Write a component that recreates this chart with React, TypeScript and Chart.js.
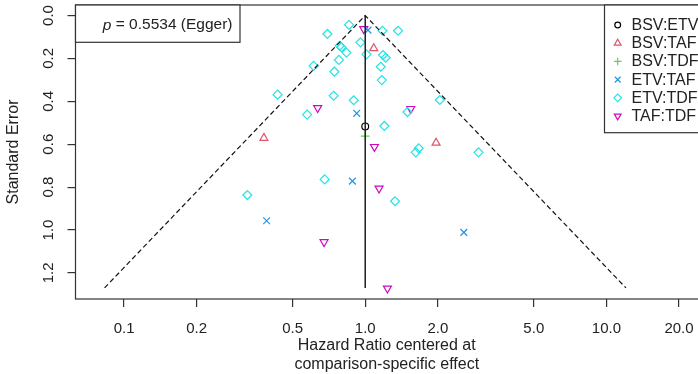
import React, { useEffect, useRef } from "react";
import { Chart, registerables } from "chart.js";
import { drawPoint } from "chart.js/helpers";

Chart.register(...registerables);

// ---- data (hazard ratio centered at comparison-specific effect, standard error) ----
const bsvEtvX = [1.0];
const bsvEtvY = [0.517];

const bsvTafX = [1.085, 0.38, 1.967];
const bsvTafY = [0.153, 0.571, 0.594];

const bsvTdfX = [1.0];
const bsvTdfY = [0.562];

const etvTafX = [1.027, 0.922, 0.885, 0.39, 2.563];
const etvTafY = [0.068, 0.456, 0.772, 0.957, 1.011];

const etvTdfX = [
  0.857, 0.697, 1.179, 1.368, 0.784, 0.797, 0.955, 0.836, 1.012, 1.185,
  1.216, 0.778, 0.611, 1.16, 0.745, 1.171, 0.433, 0.74, 0.896, 2.038,
  0.574, 1.497, 1.201, 1.667, 1.62, 2.949, 0.679, 0.3245, 1.329,
];
const etvTdfY = [
  0.044, 0.086, 0.071, 0.071, 0.141, 0.148, 0.125, 0.173, 0.181, 0.184,
  0.197, 0.207, 0.235, 0.239, 0.262, 0.301, 0.369, 0.374, 0.395, 0.394,
  0.462, 0.45, 0.515, 0.619, 0.638, 0.638, 0.764, 0.837, 0.866,
];

const tafTdfX = [0.986, 0.635, 1.545, 1.092, 1.141, 0.675, 1.236];
const tafTdfY = [0.063, 0.431, 0.435, 0.612, 0.806, 1.056, 1.272];

// funnel (pseudo 95% limits) and centre line
const funnelX = [0.083, 1.0, 12.05];
const funnelY = [1.27, 0.0, 1.27];
const centerX = [1.0, 1.0];
const centerY = [0.0, 1.27];

const xTicks = [0.1, 0.2, 0.5, 1.0, 2.0, 5.0, 10.0, 20.0];
const xTickLabels = ["0.1", "0.2", "0.5", "1.0", "2.0", "5.0", "10.0", "20.0"];
const yTicks = [0.0, 0.2, 0.4, 0.6, 0.8, 1.0, 1.2];
const yTickLabels = ["0.0", "0.2", "0.4", "0.6", "0.8", "1.0", "1.2"];

const seriesNames = ["BSV:ETV", "BSV:TAF", "BSV:TDF", "ETV:TAF", "ETV:TDF", "TAF:TDF"];
const pValueText = "0.5534";

const FONT = "'Liberation Sans', Arial, Helvetica, sans-serif";
const INK = "#222222";

const toPts = (xs: number[], ys: number[]) => xs.map((x, i) => ({ x, y: ys[i] }));

const styles = [
  { color: "#000000", pointStyle: "circle", radius: 3.4, rotation: 0 },
  { color: "#DF536B", pointStyle: "triangle", radius: 4.6, rotation: 0 },
  { color: "#61D04F", pointStyle: "cross", radius: 4.4, rotation: 0 },
  { color: "#2297E6", pointStyle: "crossRot", radius: 4.8, rotation: 0 },
  { color: "#28E2E5", pointStyle: "rectRot", radius: 4.5, rotation: 0 },
  { color: "#CD0BBC", pointStyle: "triangle", radius: 4.6, rotation: 180 },
];
const seriesData = [
  toPts(bsvEtvX, bsvEtvY),
  toPts(bsvTafX, bsvTafY),
  toPts(bsvTdfX, bsvTdfY),
  toPts(etvTafX, etvTafY),
  toPts(etvTdfX, etvTdfY),
  toPts(tafTdfX, tafTdfY),
];

const decorPlugin = {
  id: "decor",
  afterDraw(chart: any) {
    const ctx = chart.ctx as CanvasRenderingContext2D;
    const area = chart.chartArea;
    const yScale = chart.scales.y;
    ctx.save();
    // plot box
    ctx.strokeStyle = "#333333";
    ctx.lineWidth = 1.2;
    ctx.strokeRect(area.left, area.top, area.right - area.left + 10, area.bottom - area.top);

    // y tick labels (rotated, as in R)
    ctx.fillStyle = INK;
    ctx.font = `15px ${FONT}`;
    ctx.textAlign = "center";
    ctx.textBaseline = "middle";
    yTicks.forEach((v, i) => {
      const py = yScale.getPixelForValue(v);
      ctx.save();
      ctx.translate(48.5, py);
      ctx.rotate(-Math.PI / 2);
      ctx.fillText(yTickLabels[i], 0, 0);
      ctx.restore();
    });

    // p-value box
    const bx = area.left;
    const by = area.top;
    const bw = 164.5;
    const bh = 37.3;
    ctx.fillStyle = "#ffffff";
    ctx.fillRect(bx, by, bw, bh);
    ctx.strokeRect(bx, by, bw, bh);
    ctx.fillStyle = INK;
    ctx.textAlign = "left";
    ctx.textBaseline = "middle";
    const rest = ` = ${pValueText} (Egger)`;
    ctx.font = `15.5px ${FONT}`;
    const wRest = ctx.measureText(rest).width;
    ctx.font = `italic 15.5px ${FONT}`;
    const wP = ctx.measureText("p").width;
    const endX = bx + bw - 7.5;
    const startX = endX - wRest - wP;
    ctx.fillText("p", startX, by + 20.2);
    ctx.font = `15.5px ${FONT}`;
    ctx.fillText(rest, startX + wP, by + 20.2);

    // legend box
    const lx = 604.5;
    const ly = area.top;
    const lh = 127.7;
    ctx.fillStyle = "#ffffff";
    ctx.fillRect(lx, ly, 200, lh);
    ctx.strokeRect(lx, ly, 200, lh);
    seriesNames.forEach((name, i) => {
      const cy = ly + 20 + i * 18.2;
      const s = styles[i];
      ctx.strokeStyle = s.color;
      ctx.fillStyle = "rgba(0,0,0,0)";
      ctx.lineWidth = 1.2;
      drawPoint(ctx, { pointStyle: s.pointStyle as any, radius: s.radius * 0.85, rotation: s.rotation, borderWidth: 1.2 }, 617.7, cy);
      ctx.fillStyle = INK;
      ctx.font = `16px ${FONT}`;
      ctx.textAlign = "left";
      ctx.textBaseline = "middle";
      ctx.fillText(name, 631.5, cy + 0.5);
    });
    ctx.restore();
  },
};

export default function App() {
  const ref = useRef<HTMLCanvasElement | null>(null);
  useEffect(() => {
    document.body.style.margin = "0";
    const canvas = ref.current;
    if (!canvas) return;
    const datasets: any[] = [
      {
        label: "funnel",
        data: toPts(funnelX, funnelY),
        showLine: true,
        borderColor: "#111111",
        borderWidth: 1.2,
        borderDash: [5, 3],
        pointRadius: 0,
        fill: false,
      },
      {
        label: "center",
        data: toPts(centerX, centerY),
        showLine: true,
        borderColor: "#222222",
        borderWidth: 1.5,
        pointRadius: 0,
        fill: false,
      },
      ...seriesNames.map((name, i) => ({
        label: name,
        data: seriesData[i],
        showLine: false,
        pointStyle: styles[i].pointStyle,
        pointRotation: styles[i].rotation,
        pointRadius: styles[i].radius,
        pointBorderColor: styles[i].color,
        pointBackgroundColor: "rgba(0,0,0,0)",
        pointBorderWidth: 1.2,
        borderColor: styles[i].color,
      })),
    ];
    const chart = new Chart(canvas, {
      type: "scatter",
      data: { datasets },
      plugins: [decorPlugin],
      options: {
        animation: false,
        responsive: false,
        devicePixelRatio: 1,
        layout: { autoPadding: false, padding: { top: 5, left: 0, right: 0, bottom: 0 } },
        plugins: { legend: { display: false }, tooltip: { enabled: false } },
        scales: {
          x: {
            type: "logarithmic",
            min: 0.0629,
            max: 23.98,
            afterBuildTicks: (s: any) => {
              s.ticks = xTicks.map((v) => ({ value: v }));
            },
            afterFit: (s: any) => {
              s.height = 75;
              s.paddingLeft = 0;
              s.paddingRight = 0;
            },
            border: { display: false },
            grid: { drawOnChartArea: false, drawTicks: true, tickLength: 8, color: "#333333", lineWidth: 1.2 },
            ticks: {
              autoSkip: false,
              maxRotation: 0,
              padding: 13,
              color: INK,
              font: { family: FONT, size: 15 },
              callback: (_v: any, i: number) => xTickLabels[i],
            },
            title: {
              display: true,
              text: ["Hazard Ratio centered at", "comparison-specific effect"],
              color: INK,
              font: { family: FONT, size: 16, lineHeight: 1.19 },
              padding: { top: 0, bottom: 0 },
            },
          },
          y: {
            type: "linear",
            reverse: true,
            min: -0.049,
            max: 1.3217,
            afterBuildTicks: (s: any) => {
              s.ticks = yTicks.map((v) => ({ value: v }));
            },
            afterFit: (s: any) => {
              s.width = 75.5;
              s.paddingTop = 0;
              s.paddingBottom = 0;
            },
            border: { display: false },
            grid: { drawOnChartArea: false, drawTicks: true, tickLength: 8, color: "#333333", lineWidth: 1.2 },
            ticks: { display: false },
            title: {
              display: true,
              text: "Standard Error",
              color: INK,
              font: { family: FONT, size: 16, lineHeight: 1.2 },
              padding: { top: 4, bottom: 0 },
            },
          },
        },
      },
    });
    return () => chart.destroy();
  }, []);
  return <canvas ref={ref} width={698} height={374} style={{ display: "block" }} />;
}
